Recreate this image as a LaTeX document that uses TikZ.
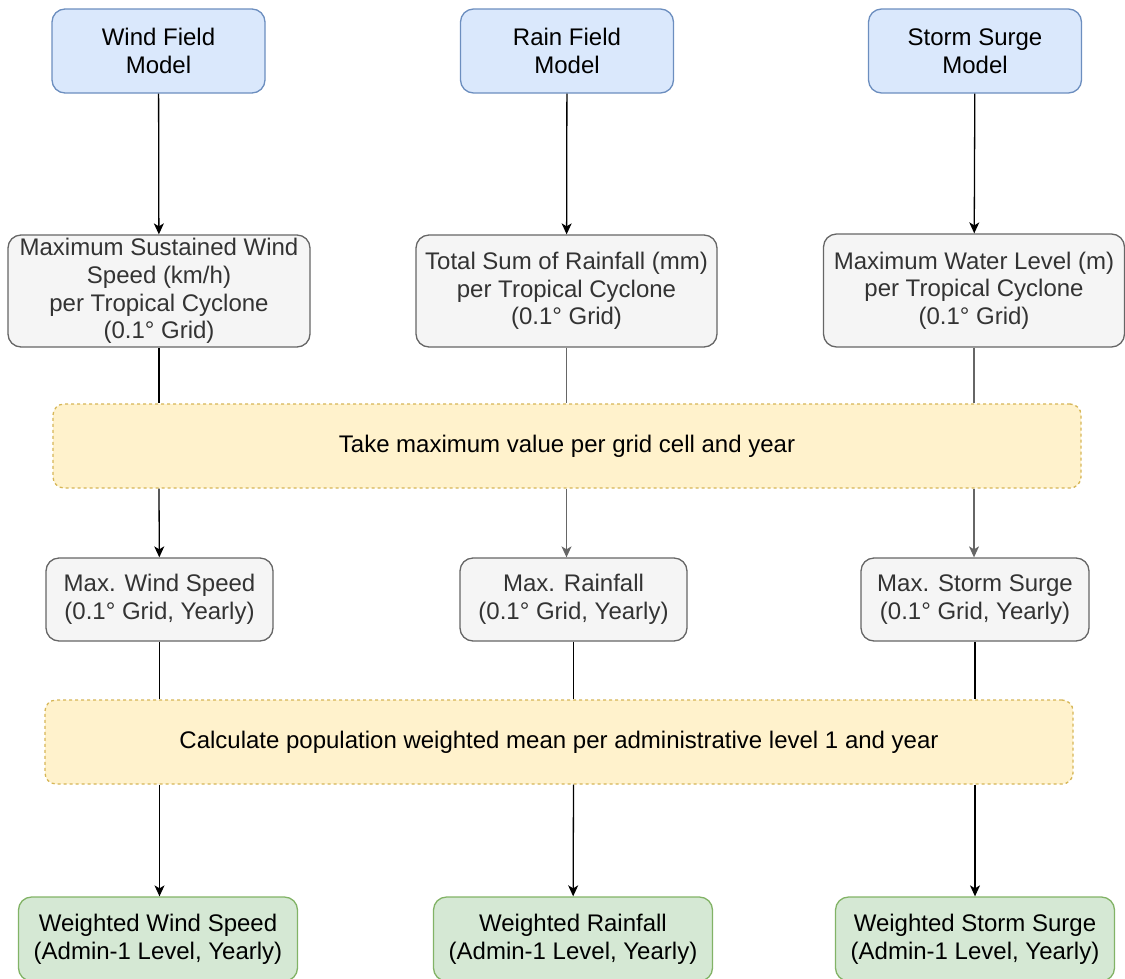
\documentclass[tikz,border=0pt]{standalone}
\usepackage{fontspec}
\setmainfont{Liberation Sans}
\usepackage{tikz}
\usetikzlibrary{arrows.meta}

\definecolor{modelfill}{HTML}{DAE8FC}
\definecolor{modelline}{HTML}{6C8EBF}
\definecolor{gridfill}{HTML}{F5F5F5}
\definecolor{gridline}{HTML}{666666}
\definecolor{gridtext}{HTML}{333333}
\definecolor{stepfill}{HTML}{FFF2CC}
\definecolor{stepline}{HTML}{D6B656}
\definecolor{admfill}{HTML}{D5E8D4}
\definecolor{admline}{HTML}{82B366}

\begin{document}
\begin{tikzpicture}[x=1pt,y=-1pt,>={Stealth[length=11pt,width=10pt,inset=3pt]},line width=1.3pt,
  font=\fontsize{24}{27.6}\selectfont]
\tikzstyle{model}=[draw=modelline,fill=modelfill,rounded corners=13pt,align=center,minimum width=213pt,minimum height=84pt]
\tikzstyle{grid}=[draw=gridline,fill=gridfill,text=gridtext,rounded corners=13pt,align=center,inner sep=0pt]
\tikzstyle{band}=[draw=stepline,fill=stepfill,dash pattern=on 3pt off 3pt,rounded corners=11pt,minimum width=1028pt,minimum height=84pt]
\tikzstyle{adm}=[draw=admline,fill=admfill,rounded corners=13pt,align=center,minimum width=279pt,minimum height=84pt]
\tikzstyle{link}=[draw=black]
\tikzstyle{glink}=[draw=gridline]
\useasboundingbox (0,0) rectangle (1125,978);
\clip (0,0) rectangle (1125,978);

% models
\node[model] (wfield) at (158.5,51) {Wind Field\\Model};
\node[model] (rfield) at (567,51) {Rain Field\\Model};
\node[model] (sfield) at (975,51) {Storm Surge\\Model};

% per cyclone
\node[grid,minimum width=302pt,minimum height=112pt] (wsus) at (159,291)
  {Maximum Sustained Wind\\Speed (km/h)\\per Tropical Cyclone\\(0.1° Grid)};
\node[grid,minimum width=301pt,minimum height=112pt] (rsum) at (566.5,291)
  {Total Sum of Rainfall (mm)\\per Tropical Cyclone\\(0.1° Grid)};
\node[grid,minimum width=301pt,minimum height=113pt] (swat) at (974,290.5)
  {Maximum Water Level (m)\\per Tropical Cyclone\\(0.1° Grid)};

% steps
\node[band] (band1) at (567,446) {Take maximum value per grid cell and year};

\node[grid,minimum width=227pt,minimum height=83pt] (wyr) at (159.5,599.5) {Max. Wind Speed\\(0.1° Grid, Yearly)};
\node[grid,minimum width=227pt,minimum height=83pt] (ryr) at (573.5,599.5) {Max. Rainfall\\(0.1° Grid, Yearly)};
\node[grid,minimum width=228pt,minimum height=83pt] (syr) at (975,599.5) {Max. Storm Surge\\(0.1° Grid, Yearly)};

\node[band] (band2) at (559,742) {Calculate population weighted mean per administrative level 1 and year};

% admin-1 results
\node[adm] (wgt) at (158,939) {Weighted Wind Speed\\(Admin-1 Level, Yearly)};
\node[adm] (rgt) at (573,939) {Weighted Rainfall\\(Admin-1 Level, Yearly)};
\node[adm] (sgt) at (975,939) {Weighted Storm Surge\\(Admin-1 Level, Yearly)};

\path[->,link] (wfield) edge (wsus)
               (rfield) edge (rsum)
               (sfield) edge (swat);

\draw[link] (wsus) -- (wsus.south |- band1.north);
\draw[glink] (rsum) -- (rsum.south |- band1.north);
\draw[glink] (swat) -- (swat.south |- band1.north);
\draw[->,link] (wsus.south |- band1.south) -- (wyr);
\draw[->,glink] (rsum.south |- band1.south) -- (rsum.south |- ryr.north);
\draw[->,glink] (swat.south |- band1.south) -- (swat.south |- syr.north);

\draw[link] (wyr) -- (wyr.south |- band2.north);
\draw[link] (ryr) -- (ryr.south |- band2.north);
\draw[link] (syr) -- (syr.south |- band2.north);
\draw[->,link] (wyr.south |- band2.south) -- (wyr.south |- wgt.north);
\draw[->,link] (ryr.south |- band2.south) -- (rgt);
\draw[->,link] (syr.south |- band2.south) -- (sgt);
\end{tikzpicture}
\end{document}
